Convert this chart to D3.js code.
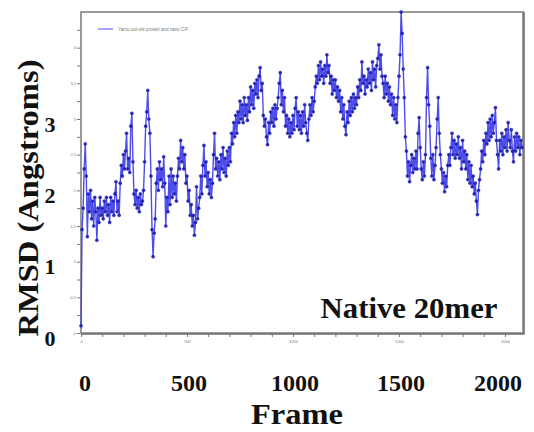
<!DOCTYPE html>
<html>
<head>
<meta charset="utf-8">
<script src="https://cdn.jsdelivr.net/npm/d3@7"></script>
<style>
  html, body { margin: 0; padding: 0; background: #ffffff; }
  svg { display: block; }
</style>
</head>
<body>
<svg id="chart" width="534" height="432"></svg>
<script>
// ---- data (RMSD, one sample every 5 frames) ----
const frameStep = 5;
const rmsd = [
  // 0-95
  0.10, 1.45, 1.75, 2.30, 2.65, 2.20, 1.35, 1.95, 1.70, 2.00, 1.60, 1.85, 1.50, 1.90, 1.70, 1.30, 1.75, 1.55, 1.90, 1.65,
  // 100-195
  1.75, 1.60, 1.85, 1.70, 1.90, 1.65, 1.80, 1.55, 1.90, 1.70, 1.85, 1.65, 1.95, 2.12, 1.70, 1.85, 1.65, 2.10, 2.35, 2.20,
  // 200-295
  2.50, 2.30, 2.55, 2.80, 2.30, 2.45, 2.25, 2.90, 3.08, 2.40, 1.95, 1.80, 2.00, 1.75, 1.90, 1.70, 1.95, 1.80, 1.85, 2.00,
  // 300-395
  2.40, 2.90, 3.10, 3.40, 3.00, 2.80, 2.20, 1.45, 1.07, 1.40, 1.60, 2.10, 2.30, 2.00, 2.40, 2.15, 2.30, 2.05, 2.47, 2.10,
  // 400-495
  1.50, 1.90, 1.70, 2.20, 1.80, 2.30, 1.90, 2.20, 1.95, 2.10, 1.85, 2.20, 2.45, 2.30, 2.70, 2.40, 2.60, 2.30, 2.50, 2.10,
  // 500-595
  2.20, 1.85, 2.00, 1.65, 1.80, 1.50, 1.65, 1.37, 1.55, 2.05, 1.60, 1.75, 1.90, 2.20, 1.95, 2.35, 2.63, 2.20, 2.40, 2.05,
  // 600-695
  2.25, 1.95, 2.15, 1.90, 2.10, 2.50, 2.80, 2.30, 2.45, 2.20, 2.40, 2.15, 2.50, 2.30, 2.60, 2.25, 2.45, 2.20, 2.55, 2.35,
  // 700-795
  2.60, 2.40, 2.80, 2.65, 2.95, 2.75, 3.05, 2.80, 3.10, 2.95, 3.25, 3.00, 3.20, 2.95, 3.30, 3.05, 3.20, 2.98, 3.30, 3.10,
  // 800-895
  3.45, 3.20, 3.40, 3.15, 3.50, 3.35, 3.55, 3.30, 3.60, 3.72, 3.40, 3.50, 3.05, 2.90, 3.00, 2.75, 2.64, 2.95, 2.80, 3.10,
  // 900-995
  2.95, 3.15, 2.90, 3.20, 3.00, 3.15, 3.30, 3.50, 3.65, 3.20, 3.40, 3.10, 3.30, 2.90, 3.05, 2.80, 3.00, 2.75, 2.95, 2.80,
  // 1000-1095
  3.05, 2.85, 3.15, 3.30, 2.90, 3.10, 2.85, 3.05, 2.80, 3.10, 2.90, 3.20, 2.95, 2.80, 2.70, 3.00, 3.20, 3.05, 3.30, 3.10,
  // 1100-1195
  3.25, 3.45, 3.60, 3.50, 3.75, 3.55, 3.80, 3.60, 3.70, 3.50, 3.75, 3.60, 3.90, 3.65, 3.75, 3.50, 3.60, 3.35, 3.55, 3.40,
  // 1200-1295
  3.55, 3.30, 3.45, 3.25, 3.40, 3.10, 3.30, 3.00, 3.20, 2.90, 2.78, 3.10, 2.95, 3.25, 3.05, 3.30, 3.10, 3.35, 3.15, 3.30,
  // 1300-1395
  3.20, 3.45, 3.30, 3.55, 3.40, 3.80, 3.50, 3.60, 3.35, 3.55, 3.45, 3.70, 3.50, 3.65, 3.40, 3.80, 3.55, 3.70, 3.45, 3.75,
  // 1400-1495
  3.85, 4.04, 3.70, 3.90, 3.60, 3.50, 3.30, 3.60, 3.35, 3.50, 3.25, 3.45, 3.20, 3.35, 3.05, 3.30, 3.00, 3.20, 2.95, 3.30,
  // 1500-1595
  3.60, 3.90, 4.50, 4.20, 3.70, 3.30, 2.75, 2.55, 2.20, 2.40, 2.12, 2.35, 2.50, 2.25, 2.45, 2.30, 2.55, 2.30, 2.80, 3.02,
  // 1600-1695
  2.60, 2.30, 2.15, 2.40, 2.20, 2.50, 3.30, 3.72, 3.20, 2.90, 2.45, 2.20, 2.50, 2.15, 2.35, 2.60, 3.00, 3.30, 2.80, 2.50,
  // 1700-1795
  2.30, 2.10, 2.25, 1.98, 2.20, 2.05, 2.35, 2.50, 2.35, 2.60, 2.80, 2.50, 2.70, 2.45, 2.65, 2.50, 2.75, 2.45, 2.60, 2.30,
  // 1800-1895
  2.70, 2.40, 2.55, 2.30, 2.50, 2.15, 2.40, 2.10, 2.35, 2.05, 2.20, 1.95, 2.10, 1.85, 1.66, 2.00, 2.15, 2.30, 2.55, 2.40,
  // 1900-1995
  2.70, 2.50, 2.80, 2.65, 2.95, 2.70, 3.00, 2.75, 3.05, 2.80, 2.95, 3.16, 2.70, 2.50, 2.30, 2.70, 2.55, 2.80, 2.50, 2.75,
  // 2000-2080
  2.60, 2.85, 2.55, 2.95, 2.70, 2.60, 2.85, 2.55, 2.40, 2.75, 2.55, 2.80, 2.60, 2.75, 2.50, 2.70, 2.60
];

const yMajorTicks = [0, 0.5, 1, 1.5, 2, 2.5, 3, 3.5, 4];
const yMinorTicks = [0.25, 0.75, 1.25, 1.75, 2.25, 2.75, 3.25, 3.75, 4.25];
const xMajorTicks = [0, 500, 1000, 1500, 2000];
const bigYLabels = ["0", "1", "2", "3"];
const bigXLabels = ["0", "500", "1000", "1500", "2000"];
const legendLabel = "Yamu out-ofe protein and nano C/F";
const xTitle = "Frame";
const yTitle = "RMSD (Angstroms)";
const annotation = "Native 20mer";

// ---- layout ----
const svg = d3.select("#chart");
const L = 81, R = 523, T = 12, B = 333;
const x = d3.scaleLinear().domain([0, 2085]).range([L, R]);
const y = d3.scaleLinear().domain([0, 4.5]).range([B, T]);

const data = rmsd.map((v, i) => ({ f: i * frameStep, v }));

// frame
svg.append("rect")
  .attr("x", L).attr("y", T).attr("width", R - L).attr("height", B - T)
  .attr("fill", "#fff").attr("stroke", "#9a9a9a").attr("stroke-width", 2);
svg.append("path")
  .attr("d", `M${R + 1},${T} L${R + 1},${B + 1} L${L},${B + 1}`)
  .attr("fill", "none").attr("stroke", "#6e6e6e").attr("stroke-width", 1.5);

// small axes
const yAxis = d3.axisLeft(y).tickValues(yMajorTicks).tickSize(3).tickPadding(1)
  .tickFormat(d3.format("~g"));
const gy = svg.append("g").attr("transform", `translate(${L - 1},0)`).call(yAxis);
gy.select(".domain").remove();
gy.selectAll("line").attr("stroke", "#777");
gy.selectAll("text").attr("font-size", 4).attr("fill", "#777").attr("font-family", "Arial, sans-serif");
const gym = svg.append("g").attr("transform", `translate(${L - 1},0)`)
  .call(d3.axisLeft(y).tickValues(yMinorTicks).tickSize(3).tickFormat(""));
gym.select(".domain").remove();
gym.selectAll("line").attr("stroke", "#777");

const xAxis = d3.axisBottom(x).tickValues(xMajorTicks).tickSize(3).tickPadding(3)
  .tickFormat(d3.format("d"));
const gx = svg.append("g").attr("transform", `translate(0,${B + 1})`).call(xAxis);
gx.select(".domain").remove();
gx.selectAll("line").attr("stroke", "#777");
gx.selectAll("text").attr("font-size", 4).attr("fill", "#777").attr("font-family", "Arial, sans-serif");
const xMinor = d3.range(100, 2085, 100).filter(v => v % 500 !== 0);
const gxm = svg.append("g").attr("transform", `translate(0,${B + 1})`)
  .call(d3.axisBottom(x).tickValues(xMinor).tickSize(3).tickFormat(""));
gxm.select(".domain").remove();
gxm.selectAll("line").attr("stroke", "#777");

// data line
const line = d3.line().x(d => x(d.f)).y(d => y(d.v));
svg.append("path").datum(data)
  .attr("d", line)
  .attr("fill", "none")
  .attr("stroke", "#3a3ae8")
  .attr("stroke-width", 1.4)
  .attr("stroke-opacity", 0.9);
svg.append("g").selectAll("circle").data(data).join("circle")
  .attr("cx", d => x(d.f)).attr("cy", d => y(d.v)).attr("r", 1.6)
  .attr("fill", "#1a1aa6").attr("fill-opacity", 0.9)
  .attr("stroke", "#2828c8").attr("stroke-width", 0.4);

// legend
svg.append("line").attr("x1", 98).attr("x2", 113).attr("y1", 29).attr("y2", 29)
  .attr("stroke", "#6a6aff").attr("stroke-width", 1.2);
svg.append("text").attr("x", 118).attr("y", 30.5).text(legendLabel)
  .attr("font-size", 4.5).attr("fill", "#777").attr("font-family", "Arial, sans-serif");

// big overlay labels
const serif = "'Liberation Serif', 'Times New Roman', serif";
svg.append("g").selectAll("text").data(bigYLabels).join("text")
  .attr("x", 50).attr("y", d => y(+d) + 5)
  .attr("text-anchor", "middle").attr("dominant-baseline", "central")
  .attr("font-family", serif).attr("font-weight", "bold").attr("font-size", 22)
  .attr("fill", "#111").text(d => d);
svg.append("g").selectAll("text").data(bigXLabels).join("text")
  .attr("x", d => x(+d) + (d === "0" ? 4 : d === "2000" ? -7 : 2))
  .attr("y", 391)
  .attr("text-anchor", "middle")
  .attr("font-family", serif).attr("font-weight", "bold").attr("font-size", 24)
  .attr("fill", "#111").text(d => d);

svg.append("text").attr("x", 297).attr("y", 424).attr("text-anchor", "middle")
  .attr("font-family", serif).attr("font-weight", "bold").attr("font-size", 30)
  .attr("textLength", 92).attr("lengthAdjust", "spacingAndGlyphs")
  .attr("fill", "#111").text(xTitle);

svg.append("text")
  .attr("transform", "translate(38,198) rotate(-90)")
  .attr("text-anchor", "middle")
  .attr("font-family", serif).attr("font-weight", "bold").attr("font-size", 30)
  .attr("textLength", 277).attr("lengthAdjust", "spacingAndGlyphs")
  .attr("fill", "#111").text(yTitle);

svg.append("text").attr("x", 409).attr("y", 318).attr("text-anchor", "middle")
  .attr("font-family", serif).attr("font-weight", "bold").attr("font-size", 29)
  .attr("textLength", 177).attr("lengthAdjust", "spacingAndGlyphs")
  .attr("fill", "#111").text(annotation);
</script>
</body>
</html>
